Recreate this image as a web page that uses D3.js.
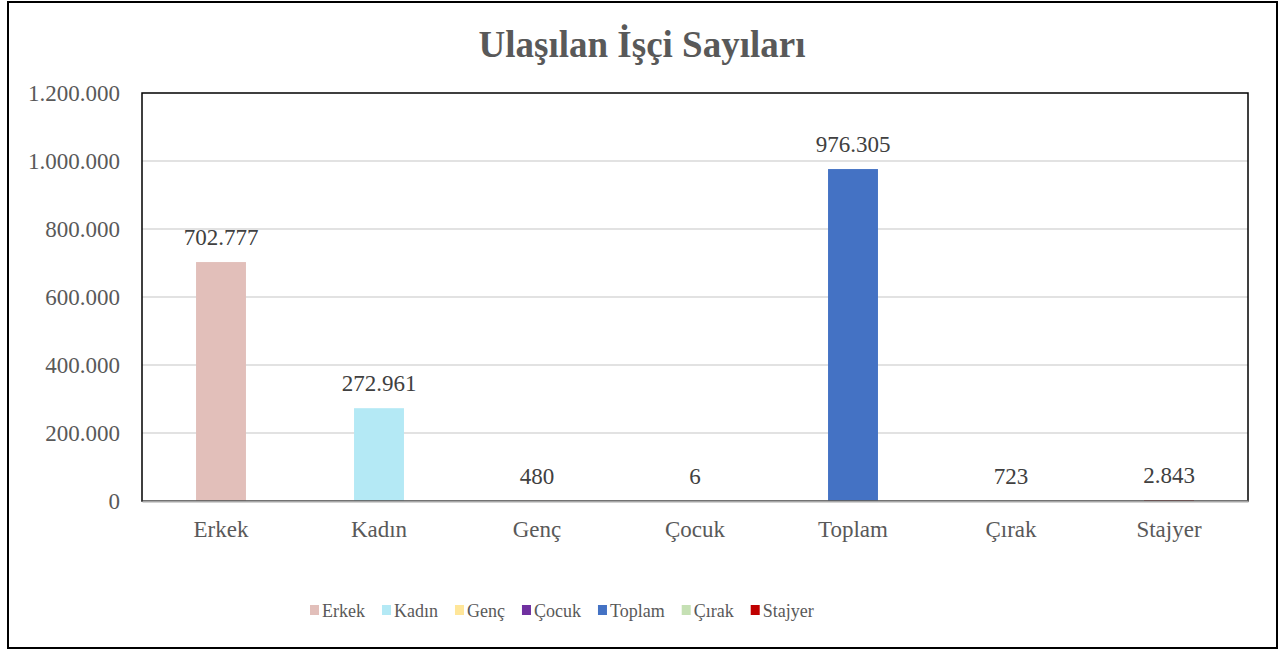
<!DOCTYPE html>
<html>
<head>
<meta charset="utf-8">
<script src="https://cdn.jsdelivr.net/npm/d3@7"></script>
<style>
  html, body { margin: 0; padding: 0; background: #fff; }
  svg { display: block; }
</style>
</head>
<body>
<svg id="chart" width="1285" height="651"></svg>
<script>
const categories = ["Erkek", "Kadın", "Genç", "Çocuk", "Toplam", "Çırak", "Stajyer"];
const values = [702777, 272961, 480, 6, 976305, 723, 2843];
const colors = ["#E2BFBA", "#B4E9F5", "#FFE699", "#7030A0", "#4472C4", "#C5E0B4", "#C00000"];
const yTicks = [0, 200000, 400000, 600000, 800000, 1000000, 1200000];
const title = "Ulaşılan İşçi Sayıları";

const font = "'Liberation Serif', 'Times New Roman', serif";
const svg = d3.select("#chart");
const W = 1285, H = 651;
const m = { left: 142, right: 1248, top: 93, bottom: 501 };

const fmt = v => d3.format(",")(v).replace(/,/g, ".");

// outer border
svg.append("rect").attr("x", 8).attr("y", 2).attr("width", 1269).attr("height", 646)
  .attr("fill", "#fff").attr("stroke", "#000").attr("stroke-width", 2);

// title
svg.append("text").attr("x", 642).attr("y", 57).attr("text-anchor", "middle")
  .attr("font-family", font).attr("font-size", 37).attr("font-weight", "bold")
  .attr("fill", "#595959").text(title);

const x = d3.scaleBand().domain(categories).range([m.left, m.right]).paddingInner(0.684).paddingOuter(0.342);
const y = d3.scaleLinear().domain([0, 1200000]).range([m.bottom, m.top]);

// gridlines
svg.append("g").selectAll("line").data(yTicks.filter(t => t > 0 && t < 1200000)).join("line")
  .attr("x1", m.left).attr("x2", m.right)
  .attr("y1", d => y(d)).attr("y2", d => y(d))
  .attr("stroke", "#D9D9D9").attr("stroke-width", 1.5);

// y axis labels
const yAxis = svg.append("g").attr("transform", `translate(${m.left},0)`)
  .call(d3.axisLeft(y).tickValues(yTicks).tickFormat(fmt).tickSize(0).tickPadding(22));
yAxis.select(".domain").remove();
yAxis.selectAll("text").attr("font-family", font).attr("font-size", 23).attr("fill", "#595959");

// bars
svg.append("g").selectAll("rect").data(values).join("rect")
  .attr("x", (d, i) => x(categories[i]))
  .attr("width", x.bandwidth())
  .attr("y", d => y(d))
  .attr("height", d => y(0) - y(d))
  .attr("fill", (d, i) => colors[i]);

// plot area border
svg.append("rect").attr("x", m.left).attr("y", m.top)
  .attr("width", m.right - m.left).attr("height", m.bottom - m.top)
  .attr("fill", "none").attr("stroke", "#000").attr("stroke-width", 1.5);

// x axis
const xAxis = svg.append("g").attr("transform", `translate(0,${m.bottom})`)
  .call(d3.axisBottom(x).tickSize(0).tickPadding(20));
xAxis.select(".domain").attr("stroke", "#A6A6A6").attr("stroke-width", 2);
xAxis.selectAll("text").attr("font-family", font).attr("font-size", 23).attr("fill", "#595959");

// data labels
svg.append("g").selectAll("text").data(values).join("text")
  .attr("x", (d, i) => x(categories[i]) + x.bandwidth() / 2)
  .attr("y", d => y(d) - 17)
  .attr("text-anchor", "middle")
  .attr("font-family", font).attr("font-size", 23).attr("fill", "#404040")
  .text(d => fmt(d));

// legend
const lg = svg.append("g");
let lx = 310;
categories.forEach((c, i) => {
  lg.append("rect").attr("x", lx).attr("y", 605).attr("width", 9).attr("height", 10).attr("fill", colors[i]);
  const t = lg.append("text").attr("x", lx + 12).attr("y", 617)
    .attr("font-family", font).attr("font-size", 18).attr("fill", "#595959").text(c);
  lx += 12 + t.node().getComputedTextLength() + 17;
});
</script>
</body>
</html>
